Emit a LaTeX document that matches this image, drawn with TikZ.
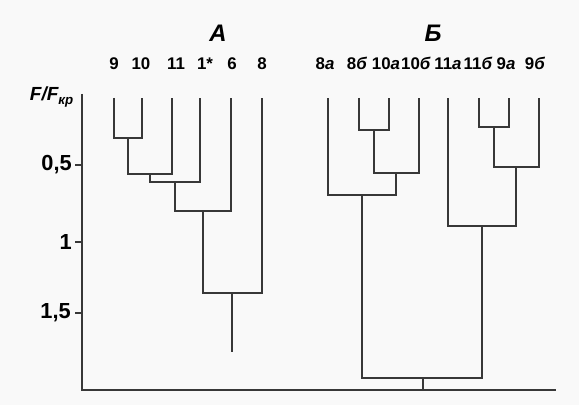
\documentclass[tikz,border=0pt]{standalone}
\usepackage{fontspec}
\setmainfont{Liberation Sans}
\usepackage{xcolor}
\usepackage{tikz}
\usetikzlibrary{positioning}

\begin{document}
\begin{tikzpicture}[
  x=0.025cm, y=-0.025cm,
  leaf/.style={font=\fontsize{12}{15}\selectfont\bfseries, inner sep=0pt, anchor=base},
  grp/.style={font=\fontsize{17}{19}\selectfont\bfseries\itshape, inner sep=0pt},
  ticklbl/.style={font=\fontsize{15.5}{17}\selectfont\bfseries, anchor=east, inner sep=0pt},
  link/.style={line width=1.25pt, draw=black!78}
]
\fill[gray!5] (0,0) rectangle (579,405);
\useasboundingbox (0,0) rectangle (579,405);

% groups
\node[grp] (grpA) at (218,33) {A};
\node[grp] (grpB) at (433,33) {Б};

% leaves, group A
\node[leaf] (l9)  at (114,70) {9};
\node[leaf] (l10) at (141,70) {10};
\node[leaf] (l11) at (176,70) {11};
\node[leaf] (l1s) at (205,70) {1*};
\node[leaf] (l6)  at (232,70) {6};
\node[leaf] (l8)  at (262,70) {8};

% leaves, group B
\node[leaf] (l8a)  at (325,70) {8\textit{а}};
\node[leaf] (l8b)  at (357,70) {8\textit{б}};
\node[leaf] (l10a) at (386,70) {10\textit{а}};
\node[leaf] (l10b) at (416,70) {10\textit{б}};
\node[leaf] (l11a) at (448,70) {11\textit{а}};
\node[leaf] (l11b) at (478,70) {11\textit{б}};
\node[leaf] (l9a)  at (506,70) {9\textit{а}};
\node[leaf] (l9b)  at (535,70) {9\textit{б}};

% leaf tops
\coordinate (t9)   at (114,98);
\coordinate (t10)  at (142,98);
\coordinate (t11)  at (172,98);
\coordinate (t1s)  at (200,98);
\coordinate (t6)   at (231,98);
\coordinate (t8)   at (262,98);
\coordinate (t8a)  at (328,98);
\coordinate (t8b)  at (359,98);
\coordinate (t10a) at (389,98);
\coordinate (t10b) at (419,98);
\coordinate (t11a) at (448,98);
\coordinate (t11b) at (479,98);
\coordinate (t9a)  at (509,98);
\coordinate (t9b)  at (539,98);

% axis
\coordinate (axt) at (82,94);
\coordinate (axb) at (82,390);
\coordinate (axr) at (556,390);
\node[font=\fontsize{13.5}{15}\selectfont\bfseries\itshape, inner sep=0pt] (flbl) at (52,97) {F/F\textsubscript{кр}};
\node[ticklbl] (tk05) at (72,165) {0,5};
\node[ticklbl] (tk10) at (72,242) {1};
\node[ticklbl] (tk15) at (71,313) {1,5};

\draw[link] (axt) -- (axb) -- (axr);
\draw[link] (tk05.east) ++(3,0) -- (tk05 -| axb);
\draw[link] (tk10.east) ++(3,0) -- (tk10 -| axb);
\draw[link] (tk15.east) ++(4,0) -- (tk15 -| axb);

% merges, group A
\coordinate (m910) at (128,138);
\coordinate (m11)  at (150,174);
\coordinate (m1s)  at (175,182);
\coordinate (m6)   at (203,211);
\coordinate (m8)   at (232,293);
\coordinate (rootA) at (232,352);

\draw[link] (t9) |- (m910) -| (t10);
\draw[link] (m910) |- (m11) -| (t11);
\draw[link] (m11) |- (m1s) -| (t1s);
\draw[link] (m1s) |- (m6) -| (t6);
\draw[link] (m6) |- (m8) -| (t8);
\draw[link] (m8) -- (rootA);

% merges, group B
\coordinate (m8b)  at (374,130);
\coordinate (m10b) at (396,173);
\coordinate (m8a)  at (362,195);
\coordinate (m11b) at (494,127);
\coordinate (m9b)  at (516,167);
\coordinate (m11a) at (482,226);
\coordinate (rootB) at (423,378);

\draw[link] (t8b) |- (m8b) -| (t10a);
\draw[link] (m8b) |- (m10b) -| (t10b);
\draw[link] (m10b) |- (m8a) -| (t8a);
\draw[link] (t11b) |- (m11b) -| (t9a);
\draw[link] (m11b) |- (m9b) -| (t9b);
\draw[link] (m9b) |- (m11a) -| (t11a);
\draw[link] (m8a) |- (rootB) -| (m11a);
\draw[link] (rootB) -- (rootB |- axb);

\end{tikzpicture}
\end{document}
